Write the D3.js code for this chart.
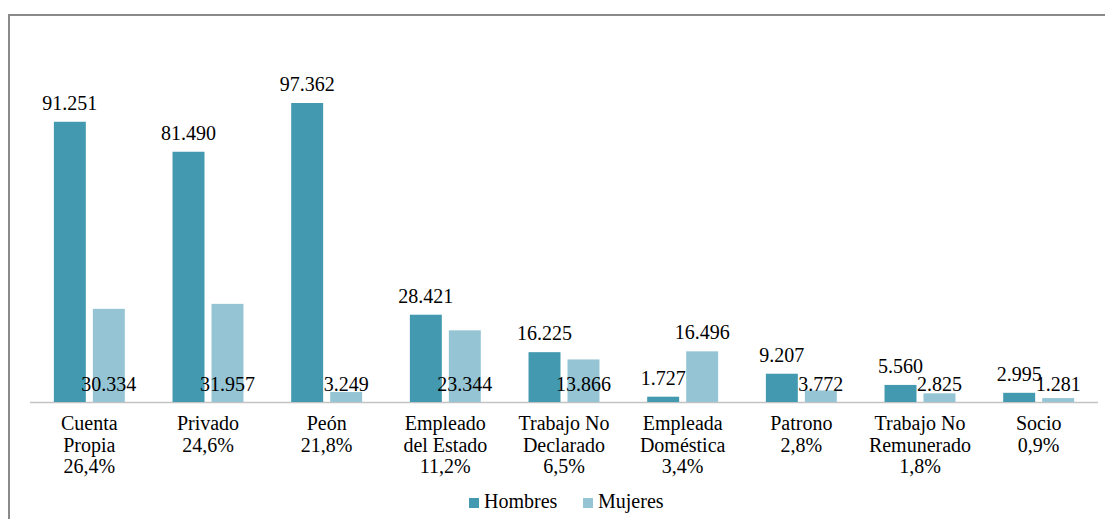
<!DOCTYPE html>
<html><head><meta charset="utf-8"><script src="https://cdn.jsdelivr.net/npm/d3@7"></script></head>
<body style="margin:0">
<svg id="chart" width="1105" height="519" font-family="Liberation Serif"></svg>
<script>
// data
var categories = ["Cuenta Propia", "Privado", "Peón", "Empleado del Estado", "Trabajo No Declarado",
    "Empleada Doméstica", "Patrono", "Trabajo No Remunerado", "Socio"];
var categoryLines = [["Cuenta", "Propia"], ["Privado"], ["Peón"], ["Empleado", "del Estado"],
    ["Trabajo No", "Declarado"], ["Empleada", "Doméstica"], ["Patrono"], ["Trabajo No", "Remunerado"], ["Socio"]];
var shares = ["26,4%", "24,6%", "21,8%", "11,2%", "6,5%", "3,4%", "2,8%", "1,8%", "0,9%"];
var series = ["Hombres", "Mujeres"];
var hombres = [91251, 81490, 97362, 28421, 16225, 1727, 9207, 5560, 2995];
var mujeres = [30334, 31957, 3249, 23344, 13866, 16496, 3772, 2825, 1281];
var colors = {Hombres: "#4399b0", Mujeres: "#95c5d5"};

var svg = d3.select('#chart');
var baseY = 402;
var fmt = d3.formatLocale({decimal: ",", thousands: ".", grouping: [3], currency: ["", ""]}).format(",d");

// frame (only top and left edges fall inside the picture)
svg.append('rect')
    .attr('x', 9).attr('y', 15)
    .attr('width', 1200).attr('height', 600)
    .attr('fill', 'none')
    .attr('stroke', '#8a8a8a')
    .attr('stroke-width', 2);

var x0 = d3.scaleBand().domain(categories).range([30, 1098]);
var x1 = d3.scaleBand().domain(series).range([0, x0.bandwidth()])
    .paddingInner(0.18).paddingOuter(0.612);
var y = d3.scaleLinear().domain([0, 100000]).range([baseY, baseY - 307.1]);

var rows = [];
categories.forEach(function (c, i) {
    rows.push({cat: c, key: 'Hombres', value: hombres[i], other: mujeres[i]});
    rows.push({cat: c, key: 'Mujeres', value: mujeres[i], other: hombres[i]});
});

svg.append('line')
    .attr('x1', 30).attr('x2', 1098)
    .attr('y1', baseY + 0.5).attr('y2', baseY + 0.5)
    .attr('stroke', '#c3c3c3')
    .attr('stroke-width', 1.5);

svg.selectAll('rect.bar')
    .data(rows)
    .enter()
    .append('rect')
    .attr('class', 'bar')
    .attr('x', function (d) { return x0(d.cat) + x1(d.key); })
    .attr('y', function (d) { return y(d.value); })
    .attr('width', x1.bandwidth())
    .attr('height', function (d) { return baseY - y(d.value); })
    .attr('fill', function (d) { return colors[d.key]; });

// value labels: Hombres above the bar, Mujeres at the base unless it is the taller one
svg.selectAll('text.val')
    .data(rows)
    .enter()
    .append('text')
    .attr('class', 'val')
    .attr('font-family', 'Liberation Serif')
    .attr('font-size', 20)
    .attr('text-anchor', 'middle')
    .attr('x', function (d) { return x0(d.cat) + x1(d.key) + x1.bandwidth() / 2; })
    .attr('y', function (d) {
        if (d.key == 'Mujeres' && d.value < d.other) return 391;
        return y(d.value) - 12;
    })
    .text(function (d) { return fmt(d.value); });

// category labels, one text per line
var catRows = [];
categories.forEach(function (c, i) {
    categoryLines[i].concat([shares[i]]).forEach(function (t, j) {
        catRows.push({cat: c, line: j, label: t});
    });
});
svg.selectAll('text.cat')
    .data(catRows)
    .enter()
    .append('text')
    .attr('class', 'cat')
    .attr('font-family', 'Liberation Serif')
    .attr('font-size', 20)
    .attr('text-anchor', 'middle')
    .attr('x', function (d) { return x0(d.cat) + x0.bandwidth() / 2; })
    .attr('y', function (d) { return 430 + d.line * 21.5; })
    .text(function (d) { return d.label; });

// legend
var legendX = [469, 583];
svg.selectAll('rect.legend')
    .data(series)
    .enter()
    .append('rect')
    .attr('class', 'legend')
    .attr('x', function (d, i) { return legendX[i]; })
    .attr('y', 498)
    .attr('width', 10).attr('height', 10)
    .attr('fill', function (d) { return colors[d]; });
svg.selectAll('text.legend')
    .data(series)
    .enter()
    .append('text')
    .attr('class', 'legend')
    .attr('font-family', 'Liberation Serif')
    .attr('font-size', 20)
    .attr('x', function (d, i) { return legendX[i] + 15; })
    .attr('y', 508)
    .text(function (d) { return d; });
</script></body></html>
